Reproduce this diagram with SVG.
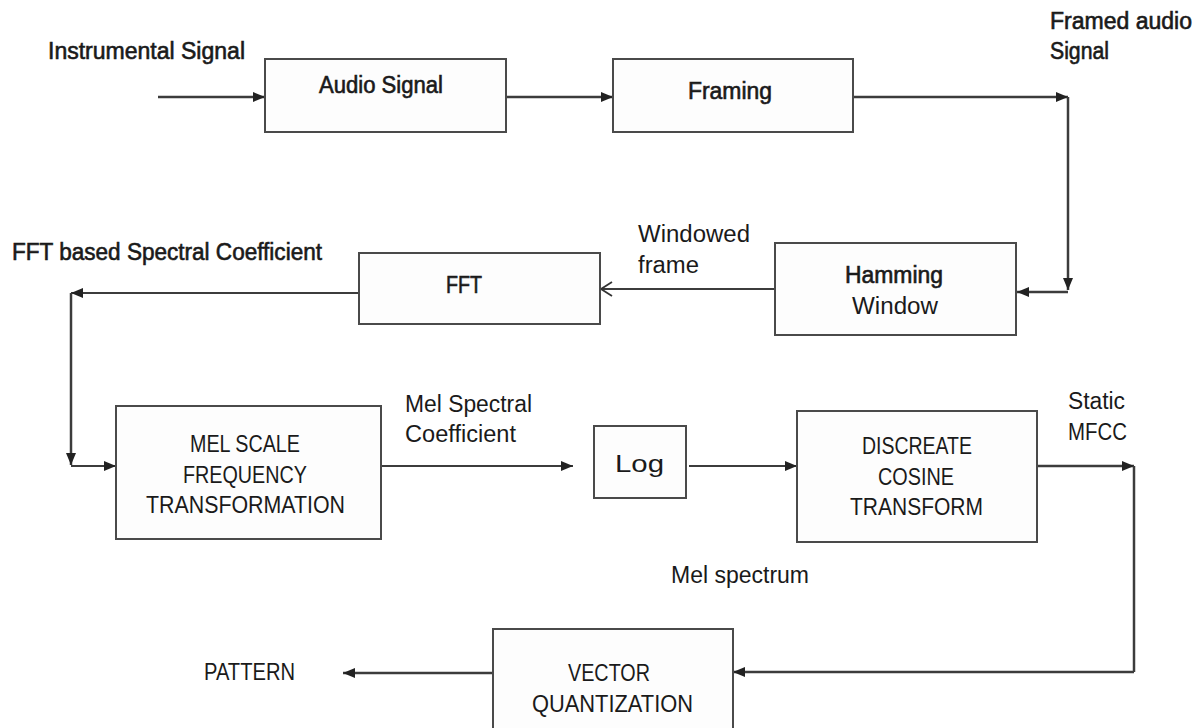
<svg xmlns="http://www.w3.org/2000/svg" width="1198" height="728" viewBox="0 0 1198 728">
<defs>
<style>
.box{fill:#fdfdfd;stroke:#4a4a4a;stroke-width:2}
.t{font-family:"Liberation Sans",Arial,sans-serif;fill:#1a1a1a;font-size:23px}
.b{stroke:#1a1a1a;stroke-width:0.6}
.c{fill:none;stroke:#3c3c3c;stroke-width:2.5}
.thin{stroke-width:2}
</style>
<marker id="ah" markerUnits="userSpaceOnUse" markerWidth="13" markerHeight="11" refX="12" refY="5.5" orient="auto">
<path d="M0,0.5 L12,5.5 L0,10.5 z" fill="#222"/>
</marker>
<marker id="oa" markerUnits="userSpaceOnUse" markerWidth="14" markerHeight="16" refX="12" refY="8" orient="auto">
<path d="M1,1 L12,8 L1,15" fill="none" stroke="#333" stroke-width="1.8"/>
</marker>
</defs>
<rect width="1198" height="728" fill="#ffffff"/>

<g id="connectors">
<path class="c" d="M158,97 H265" marker-end="url(#ah)"/>
<path class="c" d="M506,97 H613" marker-end="url(#ah)"/>
<path class="c" d="M853,97 H1068" marker-end="url(#ah)"/>
<path class="c" d="M1068,97 V290" marker-end="url(#ah)"/>
<path class="c" d="M1068,292 H1017" marker-end="url(#ah)"/>
<path class="c thin" d="M775,289 H601" marker-end="url(#oa)"/>
<path class="c thin" d="M359,293 H71" marker-end="url(#ah)"/>
<path class="c" d="M71,293 V465" marker-end="url(#ah)"/>
<path class="c thin" d="M71,466 H116" marker-end="url(#ah)"/>
<path class="c thin" d="M368,466 H573" marker-end="url(#ah)"/>
<path class="c thin" d="M689,466 H797" marker-end="url(#ah)"/>
<path class="c" d="M1037,466 H1134" marker-end="url(#ah)"/>
<path class="c" d="M1134,466 V672"/>
<path class="c" d="M1134,672 H733" marker-end="url(#ah)"/>
<path class="c" d="M493,673 H343" marker-end="url(#ah)"/>
</g>

<g id="labels">
<text class="t b" x="48" y="59" font-size="24" textLength="197" lengthAdjust="spacingAndGlyphs">Instrumental Signal</text>
<text class="t b" x="1050" y="29" font-size="21" textLength="142" lengthAdjust="spacingAndGlyphs">Framed audio</text>
<text class="t b" x="1050" y="59" font-size="21" textLength="59" lengthAdjust="spacingAndGlyphs">Signal</text>
<text class="t" x="638" y="242" font-size="24" textLength="112" lengthAdjust="spacingAndGlyphs">Windowed</text>
<text class="t" x="638" y="273" font-size="24" textLength="61" lengthAdjust="spacingAndGlyphs">frame</text>
<text class="t b" x="12" y="260" font-size="23" textLength="310" lengthAdjust="spacingAndGlyphs">FFT  based Spectral Coefficient</text>
<text class="t" x="405" y="412" font-size="22" textLength="127" lengthAdjust="spacingAndGlyphs">Mel Spectral</text>
<text class="t" x="405" y="442" font-size="22" textLength="111" lengthAdjust="spacingAndGlyphs">Coefficient</text>
<text class="t" x="1068" y="409" font-size="22" textLength="57" lengthAdjust="spacingAndGlyphs">Static</text>
<text class="t" x="1068" y="440" font-size="22" textLength="59" lengthAdjust="spacingAndGlyphs">MFCC</text>
<text class="t" x="671" y="583" font-size="23" textLength="138" lengthAdjust="spacingAndGlyphs">Mel spectrum</text>
<text class="t" x="204" y="680" font-size="23" textLength="91" lengthAdjust="spacingAndGlyphs">PATTERN</text>
</g>

<g id="audio-signal">
<rect class="box" x="265" y="59" width="241" height="73"/>
<text class="t b" x="319" y="93" font-size="23" textLength="124" lengthAdjust="spacingAndGlyphs">Audio Signal</text>
</g>

<g id="framing">
<rect class="box" x="613" y="59" width="240" height="73"/>
<text class="t b" x="688" y="99" font-size="23" textLength="84" lengthAdjust="spacingAndGlyphs">Framing</text>
</g>

<g id="hamming-window">
<rect class="box" x="775" y="243" width="241" height="92"/>
<text class="t b" x="845" y="283" font-size="23" textLength="98" lengthAdjust="spacingAndGlyphs">Hamming</text>
<text class="t" x="852" y="314" font-size="23" textLength="86" lengthAdjust="spacingAndGlyphs">Window</text>
</g>

<g id="fft">
<rect class="box" x="359" y="253" width="241" height="71"/>
<text class="t b" x="446" y="293" font-size="23" textLength="36" lengthAdjust="spacingAndGlyphs">FFT</text>
</g>

<g id="mel-scale">
<rect class="box" x="116" y="406" width="265" height="133"/>
<text class="t" x="190" y="452" font-size="23" textLength="110" lengthAdjust="spacingAndGlyphs">MEL SCALE</text>
<text class="t" x="183" y="483" font-size="23" textLength="124" lengthAdjust="spacingAndGlyphs">FREQUENCY</text>
<text class="t" x="146" y="513" font-size="23" textLength="199" lengthAdjust="spacingAndGlyphs">TRANSFORMATION</text>
</g>

<g id="log">
<rect class="box" x="594" y="426" width="92" height="72"/>
<text class="t" x="615" y="472" font-size="32" textLength="49" lengthAdjust="spacingAndGlyphs">Log</text>
</g>

<g id="dct">
<rect class="box" x="797" y="411" width="240" height="131"/>
<text class="t" x="862" y="454" font-size="24" textLength="110" lengthAdjust="spacingAndGlyphs">DISCREATE</text>
<text class="t" x="878" y="485" font-size="24" textLength="76" lengthAdjust="spacingAndGlyphs">COSINE</text>
<text class="t" x="850" y="515" font-size="24" textLength="133" lengthAdjust="spacingAndGlyphs">TRANSFORM</text>
</g>

<g id="vector-quantization">
<rect class="box" x="493" y="629" width="240" height="110"/>
<text class="t" x="568" y="681" font-size="23" textLength="82" lengthAdjust="spacingAndGlyphs">VECTOR</text>
<text class="t" x="532" y="712" font-size="23" textLength="161" lengthAdjust="spacingAndGlyphs">QUANTIZATION</text>
</g>
</svg>
